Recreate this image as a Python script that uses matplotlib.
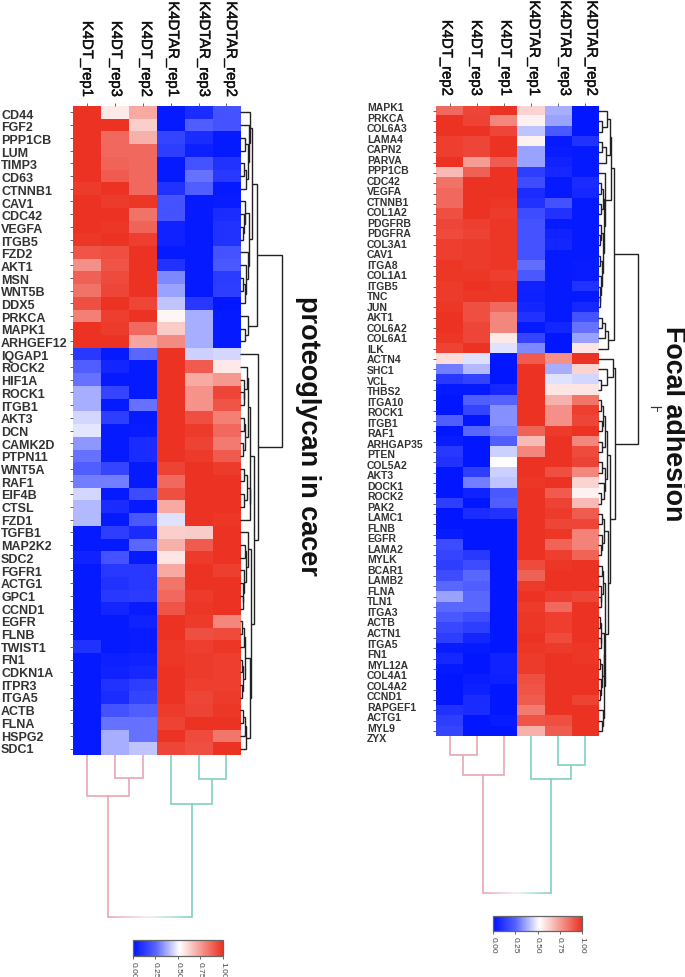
import matplotlib
matplotlib.use("Agg")
import matplotlib.pyplot as plt
import matplotlib.patheffects as pe
import numpy as np
from matplotlib.colors import LinearSegmentedColormap

plt.rcParams['font.family'] = ['Liberation Sans', 'DejaVu Sans']

W, H = 685, 978

left_cols = ['K4DT_rep1', 'K4DT_rep3', 'K4DT_rep2', 'K4DTAR_rep1', 'K4DTAR_rep3', 'K4DTAR_rep2']
left_rows = ['CD44', 'FGF2', 'PPP1CB', 'LUM', 'TIMP3', 'CD63', 'CTNNB1', 'CAV1', 'CDC42', 'VEGFA',
             'ITGB5', 'FZD2', 'AKT1', 'MSN', 'WNT5B', 'DDX5', 'PRKCA', 'MAPK1', 'ARHGEF12', 'IQGAP1',
             'ROCK2', 'HIF1A', 'ROCK1', 'ITGB1', 'AKT3', 'DCN', 'CAMK2D', 'PTPN11', 'WNT5A', 'RAF1',
             'EIF4B', 'CTSL', 'FZD1', 'TGFB1', 'MAP2K2', 'SDC2', 'FGFR1', 'ACTG1', 'GPC1', 'CCND1',
             'EGFR', 'FLNB', 'TWIST1', 'FN1', 'CDKN1A', 'ITPR3', 'ITGA5', 'ACTB', 'FLNA', 'HSPG2', 'SDC1']
left_vals = [
    [1.0, .57, .72, .02, .08, .2], [1.0, 1.0, .63, .02, .24, .2], [1.0, .87, .7, .16, .08, .02],
    [1.0, .87, .87, .14, .04, .02], [1.0, .88, .87, .02, .2, .1], [1.0, .9, .87, .02, .28, .12],
    [.98, 1.0, .87, .1, .24, .02], [1.0, .98, .99, .2, .02, .03], [1.0, 1.0, .85, .2, .02, .08],
    [1.0, .99, .88, .05, .02, .1], [.99, 1.0, .97, .05, .02, .1], [.92, .93, 1.0, .02, .02, .2],
    [.78, .92, 1.0, .1, .02, .22], [.89, .94, 1.0, .32, .02, .13], [.85, .95, 1.0, .36, .02, .14],
    [.93, 1.0, .95, .42, .12, .01], [.82, .97, 1.0, .54, .38, .02], [1.0, .98, .87, .64, .38, .02],
    [1.0, 1.0, .73, .79, .38, .02], [.12, .02, .26, 1.0, .44, .45], [.24, .06, .02, 1.0, .9, .57],
    [.28, .02, .02, 1.0, .72, .76], [.38, .16, .02, 1.0, .77, .95], [.38, .02, .28, 1.0, .77, .92],
    [.45, .14, .02, 1.0, .93, .82], [.48, .02, .03, 1.0, .98, .87], [.34, .02, .08, 1.0, .96, .83],
    [.28, .02, .08, 1.0, .98, .9], [.24, .16, .02, .96, 1.0, .98], [.3, .3, .02, .87, 1.0, 1.0],
    [.45, .02, .18, .93, 1.0, 1.0], [.4, .08, .02, .72, 1.0, 1.0], [.4, .02, .22, .47, 1.0, .99],
    [.02, .14, .08, .63, .64, 1.0], [.02, .02, .26, .7, .9, 1.0], [.05, .2, .02, .58, .98, 1.0],
    [.02, .12, .12, .72, 1.0, .97], [.02, .1, .12, .84, 1.0, 1.0], [.02, .12, .13, .87, .98, 1.0],
    [.02, .06, .03, .92, .99, 1.0], [.02, .02, .05, 1.0, .98, .8], [.02, .02, .03, 1.0, .93, .94],
    [.1, .02, .03, .99, .97, .99], [.02, .04, .05, .99, .98, .97], [.02, .05, .07, 1.0, .98, .97],
    [.02, .1, .14, 1.0, .97, .97], [.02, .08, .16, 1.0, .95, .98], [.02, .2, .24, .98, .96, .99],
    [.02, .28, .28, .96, 1.0, 1.0], [.02, .38, .28, 1.0, .94, .84], [.02, .38, .42, .95, .93, 1.0],
]

right_cols = ['K4DT_rep2', 'K4DT_rep3', 'K4DT_rep1', 'K4DTAR_rep1', 'K4DTAR_rep3', 'K4DTAR_rep2']
right_rows = ['MAPK1', 'PRKCA', 'COL6A3', 'LAMA4', 'CAPN2', 'PARVA', 'PPP1CB', 'CDC42', 'VEGFA', 'CTNNB1',
              'COL1A2', 'PDGFRB', 'PDGFRA', 'COL3A1', 'CAV1', 'ITGA8', 'COL1A1', 'ITGB5', 'TNC', 'JUN',
              'AKT1', 'COL6A2', 'COL6A1', 'ILK', 'ACTN4', 'SHC1', 'VCL', 'THBS2', 'ITGA10', 'ROCK1',
              'ITGB1', 'RAF1', 'ARHGAP35', 'PTEN', 'COL5A2', 'AKT3', 'DOCK1', 'ROCK2', 'PAK2', 'LAMC1',
              'FLNB', 'EGFR', 'LAMA2', 'MYLK', 'BCAR1', 'LAMB2', 'FLNA', 'TLN1', 'ITGA3', 'ACTB',
              'ACTN1', 'ITGA5', 'FN1', 'MYL12A', 'COL4A1', 'COL4A2', 'CCND1', 'RAPGEF1', 'ACTG1', 'MYL9', 'ZYX']
right_vals = [
    [.87, .95, 1.0, .62, .38, .01], [1.0, .96, .8, .55, .36, .01], [1.0, 1.0, .95, .42, .22, .01],
    [.97, .95, 1.0, .55, .02, .1], [.97, .95, 1.0, .36, .03, .02], [1.0, .75, .9, .36, .05, .02],
    [.68, .89, 1.0, .14, .07, .02], [.85, 1.0, 1.0, .18, .02, .08], [.87, 1.0, 1.0, .08, .02, .07],
    [.87, 1.0, .99, .1, .2, .02], [.93, 1.0, .98, .18, .1, .02], [.95, .97, .99, .2, .02, .02],
    [.94, .96, .99, .2, .05, .02], [.97, .98, .99, .2, .06, .02], [.97, .98, .99, .2, .02, .02],
    [.99, .98, .99, .27, .02, .03], [.99, .99, .97, .22, .02, .03], [.98, 1.0, .99, .05, .02, .1],
    [.98, .99, .99, .04, .02, .02], [.99, .93, .87, .06, .02, .07], [1.0, .93, .8, .1, .02, .2],
    [1.0, .95, .8, .02, .06, .28], [.99, .95, .57, .16, .01, .36], [.96, 1.0, .47, .32, .01, .58],
    [.6, .47, .01, .9, .78, 1.0], [.3, .4, .01, 1.0, .38, .62], [.12, .15, .01, 1.0, .47, .45],
    [.02, .02, .07, 1.0, .58, .58], [.01, .24, .25, 1.0, .7, .84], [.01, .16, .33, 1.0, .78, .97],
    [.24, .01, .33, 1.0, .78, .95], [.01, .26, .3, .88, .98, 1.0], [.03, .01, .24, .68, 1.0, .8],
    [.12, .01, .44, .8, 1.0, .94], [.1, .01, .52, 1.0, 1.0, .96], [.01, .14, .44, 1.0, .93, .8],
    [.01, .3, .42, .99, 1.0, .62], [.01, .05, .22, 1.0, .9, .55], [.14, .01, .24, 1.0, .96, .68],
    [.01, .08, .1, 1.0, .98, .9], [.01, .01, .01, 1.0, .95, .95], [.03, .01, .01, 1.0, .99, .81],
    [.18, .01, .01, 1.0, .88, .81], [.16, .12, .01, 1.0, .97, .88], [.14, .18, .01, .94, .99, 1.0],
    [.18, .26, .01, .89, 1.0, 1.0], [.26, .24, .01, .98, 1.0, 1.0], [.36, .26, .01, 1.0, .97, .95],
    [.26, .26, .01, .98, .87, 1.0], [.22, .18, .01, .99, .97, 1.0], [.17, .14, .01, .99, .97, 1.0],
    [.14, .06, .01, 1.0, .94, 1.0], [.03, .02, .01, .99, .98, .99], [.07, .01, .05, .98, 1.0, .99],
    [.02, .01, .05, .98, 1.0, 1.0], [.01, .03, .04, .93, 1.0, 1.0], [.01, .04, .01, .92, 1.0, 1.0],
    [.01, .08, .01, .9, 1.0, .96], [.1, .08, .01, .83, 1.0, 1.0], [.14, .01, .03, .92, .93, 1.0],
    [.16, .01, .01, .7, .9, 1.0],
]

# dendrograms: (height, child, child), a plain int is a leaf
l_top_a = (10, 0, (9, 1, (8, (5, 2, 3), (6, (4, 4, 5), 6))))
l_top_b = (9, (5, 7, (4, 8, (3, 9, 10))), (7.5, 11, (6, 12, (5, (3, 13, 14), 15))))
l_top = (17, (12, l_top_a, l_top_b), (8, 16, (4.5, 17, 18)))
l_mid_a = (7.5, (7, 20, (4, 21, (3.5, 22, 23))), (4.5, (3.5, 24, 25), (3, 26, 27)))
l_mid_b = (9.5, (6.5, (3.5, 28, 29), (4, 30, 31)), 32)
l_low_a = (7.5, 33, (6, (5, 34, 35), (4, 36, (3, 37, (2.5, 38, 39)))))
l_low_b = (9.5, (4.5, (3.5, (2, 40, 41), 42), (2.8, (1.8, 43, 44), (2, 45, 46))),
           (5.5, (4.5, (2.5, 47, 48), 49), 50))
left_row_tree = (41.7, l_top, (18, 19, (14, (10, l_mid_a, l_mid_b), (11, l_low_a, l_low_b))))

r_top_a = (11.5, (8.5, 0, (3.5, 1, 2)), (8, (3.5, 3, 4), 5))
r_top_b = (6.7, 6, (6, (5, (3, 7, 8), (2.5, 9, 10)),
                    (4.5, (2.5, 11, (2, 12, 13)), (3.5, (2, 14, 15), (2.5, 16, (2, 17, (1.5, 18, 19)))))))
r_top = (15.7, (12.4, r_top_a, r_top_b), (10, (7, (4, 20, 21), 22), 23))
r_low_a = (8.5, (7, (5, (3, 28, 29), (3.5, 30, 31)), (3.5, 32, 33)), (6.5, (3.5, 34, 35), (5.5, 36, (3, 37, 38))))
r_low_b = (10, (6, (4, 39, 40), (3.5, 41, (2.5, 42, 43))),
           (7, (5, (3.5, 44, 45), (3, 46, (2.5, 47, 48))),
            (6, (5.5, (3, (2, 49, 50), (2.5, 51, 52)), (3.5, (2, 53, 54), (2.5, 55, (2, 56, 57)))),
             (4.5, 58, (3.5, 59, 60)))))
right_row_tree = (40, r_top, (17, (15, 24, (8.7, 25, (3, 26, 27))), (11.7, r_low_a, r_low_b)))

left_col_tree = (162, (40.7, 0, (22.7, 1, 2)), (49, 3, (24, 4, 5)))
right_col_tree = (157, (38.4, (18.4, 0, 1), 2), (43, 3, (29, 4, 5)))

cbar_ticks = [0.0, 0.25, 0.5, 0.75, 1.0]

cmap = LinearSegmentedColormap.from_list(
    'bwr_cut', [(0, '#0014ff'), (0.25, '#5562ff'), (0.52, '#ffffff'), (1, '#ec3323')])
PINK = '#e8a6b2'
TEAL = '#80cfc4'
DARK = '#222222'


def axes_px(fig, x0, y0, x1, y1):
    return fig.add_axes([x0 / W, 1 - y1 / H, (x1 - x0) / W, (y1 - y0) / H])


def segments(node):
    # position, height, list of (p1, p2, h1, h2, h)
    if isinstance(node, int):
        return node + 0.5, 0, []
    h, a, b = node
    pa, ha, sa = segments(a)
    pb, hb, sb = segments(b)
    return (pa + pb) / 2, h, sa + sb + [(pa, pb, ha, hb, h)]


def draw_u(ax, s, color, lw, horizontal):
    p1, p2, h1, h2, h = s
    ps, hs = [p1, p1, p2, p2], [h1, h, h, h2]
    if horizontal:
        ax.plot(hs, ps, color=color, lw=lw, solid_joinstyle='miter', solid_capstyle='butt')
    else:
        ax.plot(ps, hs, color=color, lw=lw, solid_joinstyle='miter', solid_capstyle='butt')


def panel(fig, box, vals, rows, cols, col_x, col_base, row_x, row_y0, row_dy, row_size,
          row_tree, col_tree, dend_w, dend_h):
    x0, y0, x1, y1 = box
    ax = axes_px(fig, x0, y0, x1, y1)
    ax.imshow(np.array(vals), cmap=cmap, vmin=0, vmax=1, aspect='auto', interpolation='nearest')
    ax.set_xticks(range(len(cols)))
    ax.set_yticks(range(len(rows)))
    ax.set_xticklabels([])
    ax.set_yticklabels([])
    ax.xaxis.tick_top()
    ax.tick_params(length=2, width=0.7, color='#666666')
    for s in ax.spines.values():
        s.set_visible(False)

    for name, cx in zip(cols, col_x):
        t = fig.text(cx / W, 1 - col_base / H, name, rotation=270, ha='center', va='bottom',
                     fontsize=10.7, color='#111111')
        t.set_path_effects([pe.withStroke(linewidth=0.35, foreground='#111111')])
    for i, name in enumerate(rows):
        fig.text(row_x / W, 1 - (row_y0 + i * row_dy) / H, name, ha='left', va='center',
                 fontsize=row_size, fontweight='bold', color='#333333')

    # row dendrogram to the right of the heatmap
    dr = axes_px(fig, x1, y0, x1 + dend_w, y1)
    dr.set_xlim(0, dend_w)
    dr.set_ylim(len(rows), 0)
    dr.axis('off')
    for s in segments(row_tree)[2]:
        draw_u(dr, s, DARK, 1.0, True)

    # column dendrogram below
    dc = axes_px(fig, x0, y1, x1, y1 + dend_h)
    dc.set_xlim(0, len(cols))
    dc.set_ylim(dend_h, 0)
    dc.axis('off')
    root, a, b = col_tree
    pa, ha, sa = segments(a)
    pb, hb, sb = segments(b)
    for s in sa:
        draw_u(dc, s, PINK, 1.2, False)
    for s in sb:
        draw_u(dc, s, TEAL, 1.2, False)
    dc.plot([pa, pa], [ha, root], color=PINK, lw=1.2)
    dc.plot([pb, pb], [hb, root], color=TEAL, lw=1.2)
    # root bar fades through white between the two colours
    mid = (pa + pb) / 2
    edges = np.linspace(pa, pb, 25)
    white = np.array([1, 1, 1])
    for e0, e1 in zip(edges[:-1], edges[1:]):
        c = (e0 + e1) / 2
        f = abs(c - mid) / (mid - pa)
        base = np.array(matplotlib.colors.to_rgb(PINK if c < mid else TEAL))
        dc.plot([e0, e1], [root, root], color=base * (0.25 + 0.75 * f) + white * (0.75 - 0.75 * f), lw=1.2,
                solid_capstyle='butt')


def colorbar(fig, box):
    cax = axes_px(fig, *box)
    sm = plt.cm.ScalarMappable(norm=plt.Normalize(0, 1), cmap=cmap)
    cb = fig.colorbar(sm, cax=cax, orientation='horizontal')
    cb.set_ticks(cbar_ticks)
    cb.set_ticklabels(['%.2f' % t for t in cbar_ticks])
    cb.ax.tick_params(length=2.5, width=0.7, color='#666666', labelsize=6, labelcolor='#444444',
                      labelrotation=270, pad=1)
    cb.outline.set_edgecolor('#666666')
    cb.outline.set_linewidth(0.9)


fig = plt.figure(figsize=(W / 100, H / 100), dpi=100)

panel(fig, (73.3, 107, 240.3, 756), left_vals, left_rows, left_cols,
      [87, 116, 146, 173, 204, 231], 98, 1, 115.7, 12.69, 9,
      left_row_tree, left_col_tree, 44, 166)
panel(fig, (436, 107, 598.3, 737.3), right_vals, right_rows, right_cols,
      [446.7, 476, 505.7, 534, 565, 591.7], 97, 367, 108, 10.52, 7.5,
      right_row_tree, right_col_tree, 44, 161)

colorbar(fig, (132.7, 941.3, 222.7, 956.7))
colorbar(fig, (493.3, 917.3, 581.7, 932.3))

fig.text(308 / W, 1 - 436 / H, 'proteoglycan in cacer', rotation=270, ha='center', va='center',
         fontsize=19.5, fontweight='bold', color='#111111')
fig.text(673 / W, 1 - 424 / H, 'Focal adhesion', rotation=270, ha='center', va='center',
         fontsize=19.4, fontweight='bold', color='#111111')

# small stray mark beside the right title
mark = axes_px(fig, 649, 404, 663, 416)
mark.set_xlim(649, 663)
mark.set_ylim(416, 404)
mark.axis('off')
mark.plot([651, 661], [408, 408], color='#333344', lw=0.9)
mark.plot([657, 657], [408, 412], color='#333344', lw=0.7)

fig.savefig('out.png', dpi=100)
